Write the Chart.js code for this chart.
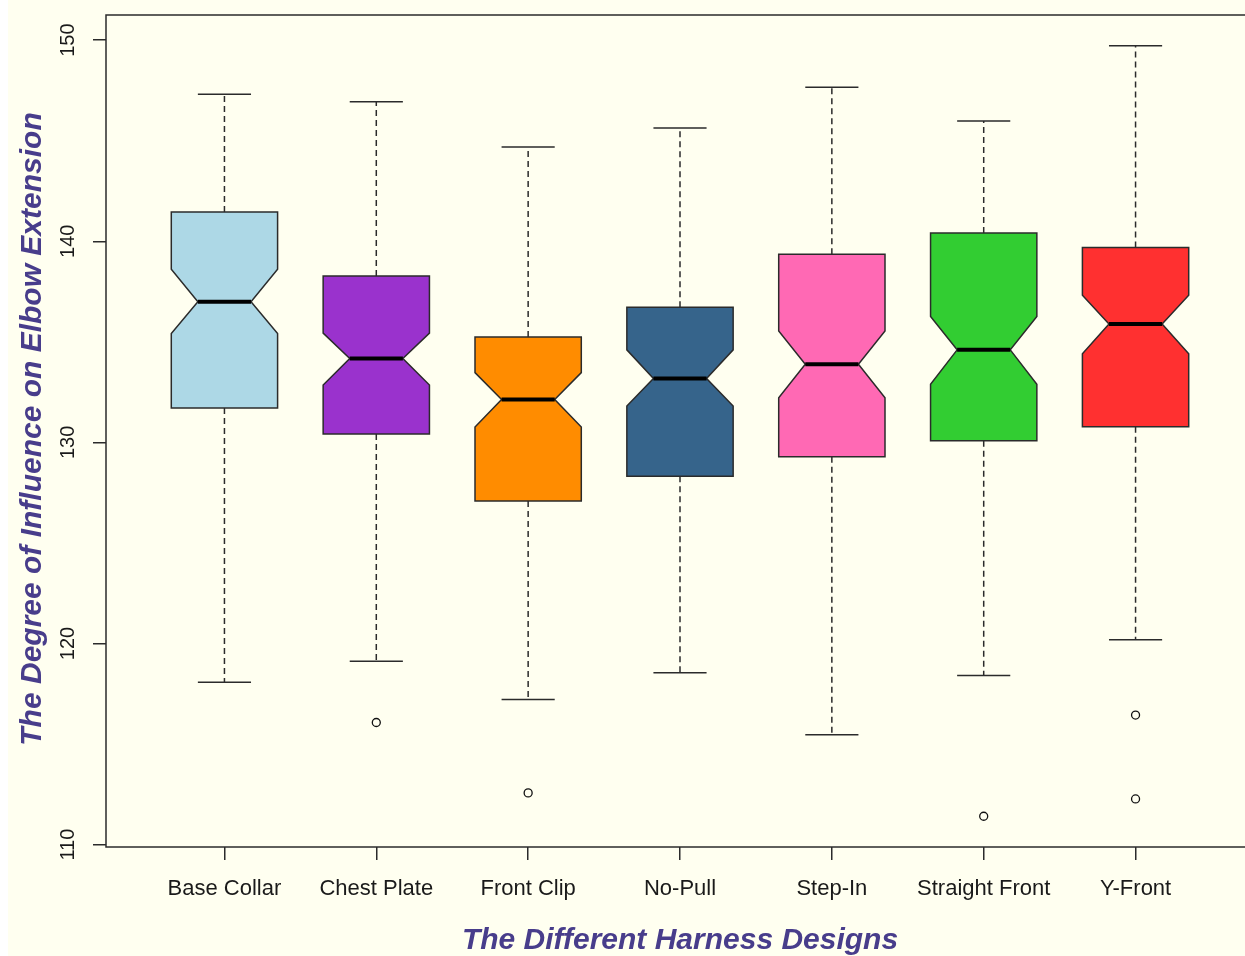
<!DOCTYPE html>
<html>
<head>
<meta charset="utf-8">
<title>Elbow extension by harness design</title>
<script src="https://cdn.jsdelivr.net/npm/chart.js@4/dist/chart.umd.min.js"></script>
<style>
  html, body { margin: 0; padding: 0; background: #ffffff; overflow: hidden; width: 1245px; height: 956px; }
  #wrap { position: absolute; left: 0; top: 0; width: 1260px; height: 956px; }
</style>
</head>
<body>
<div id="wrap"><canvas id="chart" width="1260" height="956"></canvas></div>
<script>
// Harness designs and five-number summaries of elbow-extension influence
const designs     = ['Base Collar', 'Chest Plate', 'Front Clip', 'No-Pull', 'Step-In', 'Straight Front', 'Y-Front'];
const whiskerLow  = [118.07, 119.11, 117.21, 118.55, 115.46, 118.41, 120.19];
const lowerQuart  = [131.71, 130.41, 127.08, 128.32, 129.29, 130.08, 130.78];
const notchLow    = [135.41, 132.85, 130.76, 131.81, 132.22, 132.89, 134.40];
const medians     = [136.99, 134.17, 132.13, 133.17, 133.88, 134.60, 135.88];
const notchHigh   = [138.61, 135.43, 133.47, 134.60, 135.54, 136.26, 137.32];
const upperQuart  = [141.45, 138.27, 135.24, 136.72, 139.35, 140.41, 139.69];
const whiskerHigh = [147.31, 146.94, 144.69, 145.63, 147.66, 145.98, 149.72];

// Points beyond the whiskers
const outlierDesign = ['Chest Plate', 'Front Clip', 'Straight Front', 'Y-Front', 'Y-Front'];
const outlierValues = [116.07, 112.57, 111.41, 116.44, 112.27];

const boxColors = ['#ADD8E6', '#9A32CD', '#FF8C00', '#36648B', '#FF69B4', '#32CD32', '#FF3030'];
const yTicks = [110, 120, 130, 140, 150];

const xTitle = 'The Different Harness Designs';
const yTitle = 'The Degree of Influence on Elbow Extension';

const BOX_HALF = 0.35;          // half box width in category units
const INK = '#2b2b2b';
const TITLE_COLOR = '#483D8B';
const FONT = '"Liberation Sans", Arial, Helvetica, sans-serif';

const boxplotPlugin = {
  id: 'notchedBoxplot',
  beforeDraw(chart) {
    const { ctx, width, height } = chart;
    ctx.save();
    ctx.fillStyle = '#ffffff';
    ctx.fillRect(0, 0, width, height);
    ctx.fillStyle = '#FFFFF0';
    ctx.fillRect(8, 0, width - 8, height);
    ctx.restore();
  },
  beforeDatasetsDraw(chart) {
    const { ctx, scales: { x, y } } = chart;
    ctx.save();
    designs.forEach((name, i) => {
      const c = x.getPixelForValue(i + 1);
      const hw = x.getPixelForValue(i + 1 + BOX_HALF) - c;
      const px = v => y.getPixelForValue(v);

      // whiskers
      ctx.strokeStyle = INK;
      ctx.lineWidth = 1.5;
      ctx.setLineDash([6, 4]);
      ctx.beginPath();
      ctx.moveTo(c, px(upperQuart[i])); ctx.lineTo(c, px(whiskerHigh[i]));
      ctx.moveTo(c, px(lowerQuart[i])); ctx.lineTo(c, px(whiskerLow[i]));
      ctx.stroke();
      ctx.setLineDash([]);
      ctx.beginPath();
      ctx.moveTo(c - hw / 2, px(whiskerHigh[i])); ctx.lineTo(c + hw / 2, px(whiskerHigh[i]));
      ctx.moveTo(c - hw / 2, px(whiskerLow[i]));  ctx.lineTo(c + hw / 2, px(whiskerLow[i]));
      ctx.stroke();

      // notched box
      ctx.beginPath();
      ctx.moveTo(c - hw, px(lowerQuart[i]));
      ctx.lineTo(c - hw, px(notchLow[i]));
      ctx.lineTo(c - hw / 2, px(medians[i]));
      ctx.lineTo(c - hw, px(notchHigh[i]));
      ctx.lineTo(c - hw, px(upperQuart[i]));
      ctx.lineTo(c + hw, px(upperQuart[i]));
      ctx.lineTo(c + hw, px(notchHigh[i]));
      ctx.lineTo(c + hw / 2, px(medians[i]));
      ctx.lineTo(c + hw, px(notchLow[i]));
      ctx.lineTo(c + hw, px(lowerQuart[i]));
      ctx.closePath();
      ctx.fillStyle = boxColors[i];
      ctx.fill();
      ctx.lineWidth = 1.5;
      ctx.strokeStyle = INK;
      ctx.stroke();

      // median
      ctx.beginPath();
      ctx.lineWidth = 4;
      ctx.strokeStyle = '#000000';
      ctx.moveTo(c - hw / 2, px(medians[i]));
      ctx.lineTo(c + hw / 2, px(medians[i]));
      ctx.stroke();
    });
    ctx.restore();
  },
  afterDraw(chart) {
    const { ctx, chartArea: a, scales: { y } } = chart;
    ctx.save();
    // plot frame
    ctx.strokeStyle = INK;
    ctx.lineWidth = 1.5;
    ctx.strokeRect(a.left, a.top, a.right - a.left, a.bottom - a.top);

    // rotated y tick labels
    ctx.fillStyle = '#1a1a1a';
    ctx.font = '20px ' + FONT;
    ctx.textAlign = 'center';
    ctx.textBaseline = 'middle';
    yTicks.forEach(v => {
      ctx.save();
      ctx.translate(68, y.getPixelForValue(v));
      ctx.rotate(-Math.PI / 2);
      ctx.fillText(String(v), 0, 0);
      ctx.restore();
    });

    // axis titles
    ctx.fillStyle = TITLE_COLOR;
    ctx.font = 'italic bold 30px ' + FONT;
    ctx.fillText(xTitle, (a.left + a.right) / 2, 941);
    ctx.save();
    ctx.translate(33, (a.top + a.bottom) / 2 - 2);
    ctx.rotate(-Math.PI / 2);
    ctx.fillText(yTitle, 0, 0);
    ctx.restore();
    ctx.restore();
  }
};

const outlierPoints = outlierValues.map((v, i) => ({ x: designs.indexOf(outlierDesign[i]) + 1, y: v }));

new Chart(document.getElementById('chart'), {
  type: 'scatter',
  data: {
    datasets: [{
      label: 'Outliers',
      data: outlierPoints,
      pointStyle: 'circle',
      pointRadius: 4,
      pointBorderWidth: 1.3,
      borderColor: '#111111',
      backgroundColor: 'rgba(0,0,0,0)'
    }]
  },
  options: {
    responsive: false,
    animation: false,
    events: [],
    layout: { padding: { top: 15, right: 6, left: 0, bottom: 0 } },
    plugins: { legend: { display: false }, tooltip: { enabled: false } },
    scales: {
      x: {
        type: 'linear',
        min: 0.22,
        max: 7.78,
        afterBuildTicks: s => { s.ticks = designs.map((d, i) => ({ value: i + 1 })); },
        afterFit: s => { s.height = 109; },
        border: { display: false },
        grid: { drawOnChartArea: false, drawTicks: true, tickLength: 13, color: INK, lineWidth: 1.5 },
        ticks: {
          autoSkip: false,
          maxRotation: 0,
          padding: 16,
          color: '#1a1a1a',
          font: { family: FONT, size: 22 },
          callback: v => designs[Math.round(v) - 1]
        }
      },
      y: {
        type: 'linear',
        min: 109.88,
        max: 151.25,
        afterBuildTicks: s => { s.ticks = yTicks.map(v => ({ value: v })); },
        afterFit: s => { s.width = 106; },
        border: { display: false },
        grid: { drawOnChartArea: false, drawTicks: true, tickLength: 13, color: INK, lineWidth: 1.5 },
        ticks: { display: false }
      }
    }
  },
  plugins: [boxplotPlugin]
});
</script>
</body>
</html>
